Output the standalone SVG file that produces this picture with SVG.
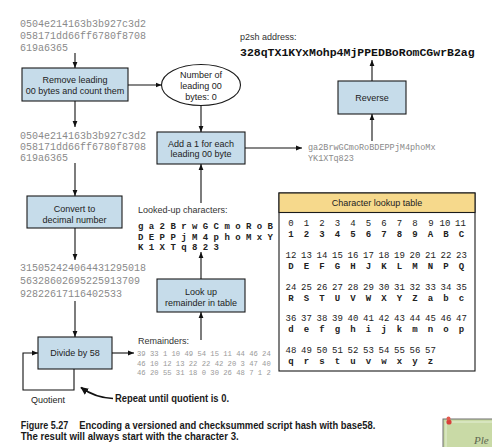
<svg xmlns="http://www.w3.org/2000/svg" width="492" height="447" viewBox="0 0 492 447">
  <style>
    .box { fill: #c6dcea; stroke: #1a1a1a; stroke-width: 1.1; }
    .lbl { font-family: "Liberation Sans", Arial, sans-serif; font-size: 9px; fill: #222; text-anchor: middle; }
    .note { font-family: "Liberation Sans", Arial, sans-serif; font-size: 9px; fill: #333; }
    .hex { font-family: "Liberation Mono", "Courier New", monospace; font-size: 10px; fill: #8a8a8a; }
    .rem { font-family: "Liberation Mono", "Courier New", monospace; font-size: 7.2px; fill: #9a9a9a; }
    .res { font-family: "Liberation Mono", "Courier New", monospace; font-size: 8.5px; fill: #8a8a8a; }
    .chars { font-family: "Liberation Mono", "Courier New", monospace; font-size: 9px; font-weight: bold; fill: #222; }
    .tnum { font-family: "Liberation Mono", "Courier New", monospace; font-size: 9px; fill: #222; text-anchor: middle; }
    .tchr { font-family: "Liberation Mono", "Courier New", monospace; font-size: 9px; font-weight: bold; fill: #222; text-anchor: middle; }
    .cap { font-family: "Liberation Sans", Arial, sans-serif; font-size: 10.5px; font-weight: bold; fill: #1a1a1a; }
    .wire { fill: none; stroke: #111; stroke-width: 1.1; }
  </style>
  <defs>
    <marker id="ah" viewBox="0 0 10 10" refX="10" refY="5" markerWidth="6" markerHeight="6" orient="auto" markerUnits="userSpaceOnUse">
      <path d="M0,1 L10,5 L0,9 z" fill="#111"/>
    </marker>
    <marker id="ahBig" viewBox="0 0 10 10" refX="9" refY="5" markerWidth="8" markerHeight="8" orient="auto" markerUnits="userSpaceOnUse">
      <path d="M0,0.5 L10,5 L0,9.5 z" fill="#111"/>
    </marker>
  </defs>

  <rect width="492" height="447" fill="#ffffff"/>

  <!-- input script hash -->
  <g id="hex-input">
    <text class="hex" x="20" y="26.5">0504e214163b3b927c3d2</text>
    <text class="hex" x="20" y="38.5">058171dd66ff6780f8708</text>
    <text class="hex" x="20" y="50.5">619a6365</text>
  </g>

  <g id="remove-leading">
    <rect class="box" x="22" y="68" width="106" height="33"/>
    <text class="lbl" x="75" y="83">Remove leading</text>
    <text class="lbl" x="75" y="94">00 bytes and count them</text>
  </g>

  <g id="leading-count">
    <ellipse cx="201" cy="85" rx="39.5" ry="20.5" fill="#ffffff" stroke="#1a1a1a" stroke-width="1.1"/>
    <text class="lbl" x="201" y="78">Number of</text>
    <text class="lbl" x="201" y="89">leading 00</text>
    <text class="lbl" x="201" y="100">bytes: 0</text>
  </g>

  <g id="hex-stripped">
    <text class="hex" x="20" y="138.5">0504e214163b3b927c3d2</text>
    <text class="hex" x="20" y="150">058171dd66ff6780f8708</text>
    <text class="hex" x="20" y="161">619a6365</text>
  </g>

  <g id="convert-decimal">
    <rect class="box" x="27" y="196" width="95" height="32"/>
    <text class="lbl" x="74.5" y="211.5">Convert to</text>
    <text class="lbl" x="74.5" y="222.5">decimal number</text>
  </g>

  <g id="decimal-value">
    <text class="hex" x="20" y="271">315052424064431295018</text>
    <text class="hex" x="20" y="284">56328602695225913709</text>
    <text class="hex" x="20" y="297">92822617116402533</text>
  </g>

  <g id="divide">
    <rect class="box" x="38" y="337" width="74" height="32"/>
    <text class="lbl" x="75" y="356">Divide by 58</text>
  </g>

  <g id="quotient-label">
    <text class="lbl" x="48" y="403">Quotient</text>
  </g>

  <g id="repeat-note">
    <text class="cap" x="115" y="402" font-size="11" textLength="114" lengthAdjust="spacingAndGlyphs">Repeat until quotient is 0.</text>
  </g>

  <g id="remainders">
    <text class="note" x="138" y="343.5">Remainders:</text>
    <text class="rem" x="137" y="356">39 33 1 10 49 54 15 11 44 46 24</text>
    <text class="rem" x="137" y="365.5">46 10 12 13 22 22 42 20 3 47 40</text>
    <text class="rem" x="137" y="374.5">46 20 55 31 18 0 30 26 48 7 1 2</text>
  </g>

  <g id="lookup">
    <rect class="box" x="157" y="279" width="88" height="33"/>
    <text class="lbl" x="201" y="295">Look up</text>
    <text class="lbl" x="201" y="305.5">remainder in table</text>
  </g>

  <g id="looked-up">
    <text class="note" x="138" y="213">Looked-up characters:</text>
    <text class="chars" x="138" y="229">g a 2 B r w G C m o R o B</text>
    <text class="chars" x="138" y="239.5">D E P P j M 4 p h o M x Y</text>
    <text class="chars" x="138" y="249.5">K 1 X T q 8 2 3</text>
  </g>

  <g id="add-ones">
    <rect class="box" x="157" y="132" width="88" height="32"/>
    <text class="lbl" x="201" y="146.5">Add a 1 for each</text>
    <text class="lbl" x="201" y="157">leading 00 byte</text>
  </g>

  <g id="encoded">
    <text class="res" x="308" y="150">ga2BrwGCmoRoBDEPPjM4phoMx</text>
    <text class="res" x="308" y="160.5">YK1XTq823</text>
  </g>

  <g id="reverse">
    <rect class="box" x="338" y="81" width="68" height="33"/>
    <text class="lbl" x="372" y="101">Reverse</text>
  </g>

  <g id="address">
    <text class="note" x="240" y="39.5">p2sh address:</text>
    <text x="240" y="55.5" font-family="Liberation Mono, Courier New, monospace" font-size="11.5" font-weight="bold" fill="#111">328qTX1KYxMohp4MjPPEDBoRomCGwrB2ag</text>
  </g>

  <!-- base58 alphabet table -->
  <g id="lookup-table">
    <rect x="279" y="193" width="196" height="178" fill="#ffffff" stroke="#1a1a1a" stroke-width="1.1"/>
    <rect x="279" y="193" width="196" height="19.5" fill="#f6d98c" stroke="#1a1a1a" stroke-width="1.1"/>
    <text class="lbl" x="377" y="206" font-size="10">Character lookup table</text>
    <g>
      <text class="tnum" y="226"><tspan x="291">0</tspan><tspan x="306.5">1</tspan><tspan x="322">2</tspan><tspan x="337.5">3</tspan><tspan x="353">4</tspan><tspan x="368.5">5</tspan><tspan x="384">6</tspan><tspan x="399.5">7</tspan><tspan x="415">8</tspan><tspan x="431">9</tspan><tspan x="445">10</tspan><tspan x="460.5">11</tspan></text>
      <text class="tchr" y="236.5"><tspan x="291">1</tspan><tspan x="306.5">2</tspan><tspan x="322">3</tspan><tspan x="337.5">4</tspan><tspan x="353">5</tspan><tspan x="368.5">6</tspan><tspan x="384">7</tspan><tspan x="399.5">8</tspan><tspan x="415">9</tspan><tspan x="430.5">A</tspan><tspan x="446">B</tspan><tspan x="461.5">C</tspan></text>

      <text class="tnum" y="257.5"><tspan x="291">12</tspan><tspan x="306.5">13</tspan><tspan x="322">14</tspan><tspan x="337.5">15</tspan><tspan x="353">16</tspan><tspan x="368.5">17</tspan><tspan x="384">18</tspan><tspan x="399.5">19</tspan><tspan x="415">20</tspan><tspan x="430.5">21</tspan><tspan x="446">22</tspan><tspan x="461.5">23</tspan></text>
      <text class="tchr" y="268.5"><tspan x="291">D</tspan><tspan x="306.5">E</tspan><tspan x="322">F</tspan><tspan x="337.5">G</tspan><tspan x="353">H</tspan><tspan x="368.5">J</tspan><tspan x="384">K</tspan><tspan x="399.5">L</tspan><tspan x="415">M</tspan><tspan x="430.5">N</tspan><tspan x="446">P</tspan><tspan x="461.5">Q</tspan></text>

      <text class="tnum" y="289.5"><tspan x="291">24</tspan><tspan x="306.5">25</tspan><tspan x="322">26</tspan><tspan x="337.5">27</tspan><tspan x="353">28</tspan><tspan x="368.5">29</tspan><tspan x="384">30</tspan><tspan x="399.5">31</tspan><tspan x="415">32</tspan><tspan x="430.5">33</tspan><tspan x="446">34</tspan><tspan x="461.5">35</tspan></text>
      <text class="tchr" y="300.5"><tspan x="291">R</tspan><tspan x="306.5">S</tspan><tspan x="322">T</tspan><tspan x="337.5">U</tspan><tspan x="353">V</tspan><tspan x="368.5">W</tspan><tspan x="384">X</tspan><tspan x="399.5">Y</tspan><tspan x="415">Z</tspan><tspan x="430.5">a</tspan><tspan x="446">b</tspan><tspan x="461.5">c</tspan></text>

      <text class="tnum" y="320.5"><tspan x="291">36</tspan><tspan x="306.5">37</tspan><tspan x="322">38</tspan><tspan x="337.5">39</tspan><tspan x="353">40</tspan><tspan x="368.5">41</tspan><tspan x="384">42</tspan><tspan x="399.5">43</tspan><tspan x="415">44</tspan><tspan x="430.5">45</tspan><tspan x="446">46</tspan><tspan x="461.5">47</tspan></text>
      <text class="tchr" y="332"><tspan x="291">d</tspan><tspan x="306.5">e</tspan><tspan x="322">f</tspan><tspan x="337.5">g</tspan><tspan x="353">h</tspan><tspan x="368.5">i</tspan><tspan x="384">j</tspan><tspan x="399.5">k</tspan><tspan x="415">m</tspan><tspan x="430.5">n</tspan><tspan x="446">o</tspan><tspan x="461.5">p</tspan></text>

      <text class="tnum" y="352.5"><tspan x="291">48</tspan><tspan x="306.5">49</tspan><tspan x="322">50</tspan><tspan x="337.5">51</tspan><tspan x="353">52</tspan><tspan x="368.5">53</tspan><tspan x="384">54</tspan><tspan x="399.5">55</tspan><tspan x="415">56</tspan><tspan x="430.5">57</tspan></text>
      <text class="tchr" y="364"><tspan x="291">q</tspan><tspan x="306.5">r</tspan><tspan x="322">s</tspan><tspan x="337.5">t</tspan><tspan x="353">u</tspan><tspan x="368.5">v</tspan><tspan x="384">w</tspan><tspan x="399.5">x</tspan><tspan x="415">y</tspan><tspan x="430.5">z</tspan></text>
    </g>
  </g>

  <!-- connectors -->
  <g id="connectors">
    <line class="wire" x1="75" y1="53" x2="75" y2="68" marker-end="url(#ah)"/>
    <line class="wire" x1="128" y1="85" x2="161.5" y2="85" marker-end="url(#ah)"/>
    <line class="wire" x1="201" y1="105.5" x2="201" y2="132" marker-end="url(#ah)"/>
    <line class="wire" x1="75" y1="101" x2="75" y2="127" marker-end="url(#ah)"/>
    <line class="wire" x1="75" y1="163" x2="75" y2="196" marker-end="url(#ah)"/>
    <line class="wire" x1="75" y1="228" x2="75" y2="260" marker-end="url(#ah)"/>
    <line class="wire" x1="75" y1="301" x2="75" y2="337" marker-end="url(#ah)"/>
    <line class="wire" x1="112" y1="353" x2="134" y2="353" marker-end="url(#ah)"/>
    <polyline class="wire" points="74,369 74,390 23,390 23,353 38,353" marker-end="url(#ah)"/>
    <line class="wire" x1="201" y1="340" x2="201" y2="312" marker-end="url(#ah)"/>
    <line class="wire" x1="201" y1="279" x2="201" y2="252" marker-end="url(#ah)"/>
    <line class="wire" x1="201" y1="203" x2="201" y2="164" marker-end="url(#ah)"/>
    <line class="wire" x1="245" y1="148" x2="302" y2="148" marker-end="url(#ah)"/>
    <line class="wire" x1="372" y1="141" x2="372" y2="114" marker-end="url(#ah)"/>
    <line class="wire" x1="372" y1="81" x2="372" y2="60" marker-end="url(#ah)"/>
    <path d="M113,398.5 C100,398 90,394 81,387.5" fill="none" stroke="#111" stroke-width="1.6" marker-end="url(#ahBig)"/>
  </g>

  <!-- caption -->
  <g id="caption">
    <text class="cap" x="20.7" y="428.5" textLength="47.5" lengthAdjust="spacingAndGlyphs">Figure 5.27</text>
    <text class="cap" x="79.3" y="428.5" textLength="296" lengthAdjust="spacingAndGlyphs">Encoding a versioned and checksummed script hash with base58.</text>
    <text class="cap" x="20.7" y="440" textLength="218" lengthAdjust="spacingAndGlyphs">The result will always start with the character 3.</text>
  </g>

  <!-- pinned sticky note at the corner -->
  <g id="sticky-note">
    <rect x="443" y="419" width="60" height="40" fill="#c9daa6" stroke="#6f6f6f" stroke-width="1"/>
    <rect x="446" y="422" width="60" height="40" fill="none" stroke="#e6efd6" stroke-width="1"/>
    <circle cx="449" cy="422" r="2.6" fill="#d8403a"/>
    <circle cx="448.5" cy="418.5" r="2" fill="#e35a4e"/>
    <text x="474" y="444" font-family="Liberation Serif, serif" font-style="italic" font-size="11" fill="#5d6650">Ple</text>
  </g>
</svg>
